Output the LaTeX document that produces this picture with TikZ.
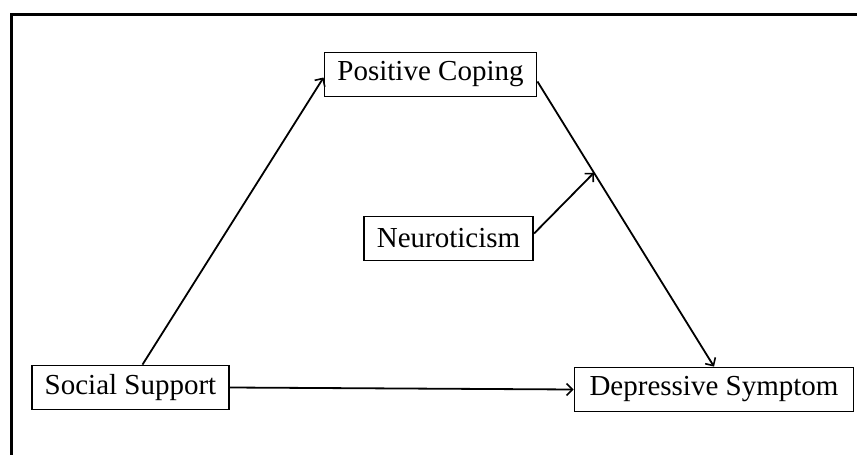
\documentclass[tikz,border=0pt]{standalone}
\usepackage{fontspec}
\setmainfont{Liberation Serif}
\usetikzlibrary{calc, arrows.meta}
\tikzset{
  var/.style={draw, line width=1.8pt, inner xsep=13pt, minimum height=44pt,
    font=\fontsize{29}{34}\selectfont},
  path/.style={-{Straight Barb[length=6pt, width=12pt, line width=1.6pt]}, line width=1.8pt}
}
\begin{document}
\begin{tikzpicture}[x=1pt, y=-1pt]
  \useasboundingbox (0,0) rectangle (857,455);
  % frame
  \draw[line width=2.6pt] (11.5,455) -- (11.5,14.5) -- (857,14.5);
  % variables
  \node[var] (pc) at (430.5,74.5) {Positive Coping};
  \node[var] (ne) at (448.5,238.5) {Neuroticism};
  \node[var] (ss) at (130.5,387.5) {Social Support};
  \node[var, inner xsep=15pt] (ds) at (714,389.5) {Depressive Symptom};
  % paths
  \draw[path] ([xshift=12pt]ss.north) -- ([yshift=-3pt]pc.west);
  \draw[path] (ss.east) -- (ds.west);
  \draw[path] ([yshift=-7pt]pc.east) coordinate (pcout) -- (ds.north);
  \coordinate (mod) at ($(pcout)!0.32!(ds.north)$);
  \draw[path] ([yshift=5pt]ne.east) -- (mod);
\end{tikzpicture}
\end{document}
